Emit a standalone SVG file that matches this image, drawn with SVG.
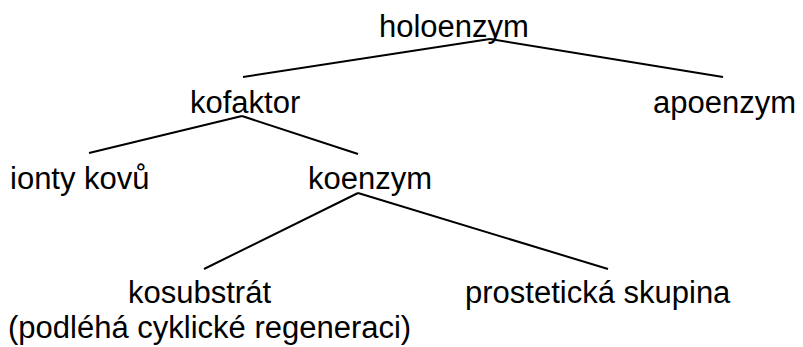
<svg xmlns="http://www.w3.org/2000/svg" width="803" height="347" viewBox="0 0 803 347">
<style>
text{font-family:"Liberation Sans",Arial,sans-serif;font-size:31px;fill:#000}
.c line{stroke:#000;stroke-width:2;fill:none}
</style>
<rect width="803" height="347" fill="#fff"/>
<g class="c" id="connectors">
<line x1="490" y1="39" x2="243" y2="77"/>
<line x1="490" y1="39" x2="723" y2="77"/>
<line x1="242" y1="116" x2="89" y2="153"/>
<line x1="242" y1="116" x2="358" y2="154"/>
<line x1="358" y1="193" x2="204" y2="269"/>
<line x1="358" y1="193" x2="608" y2="269"/>
</g>
<g id="holoenzym"><text x="379" y="37">holoenzym</text></g>
<g id="kofaktor"><text x="190" y="113">kofaktor</text></g>
<g id="apoenzym"><text x="653" y="113">apoenzym</text></g>
<g id="ionty"><text x="10" y="189">ionty kovů</text></g>
<g id="koenzym"><text x="308" y="189">koenzym</text></g>
<g id="kosubstrat"><text x="128" y="303">kosubstrát</text><text x="8" y="338">(podléhá cyklické regeneraci)</text></g>
<g id="prosteticka"><text x="465" y="303">prostetická skupina</text></g>
</svg>
